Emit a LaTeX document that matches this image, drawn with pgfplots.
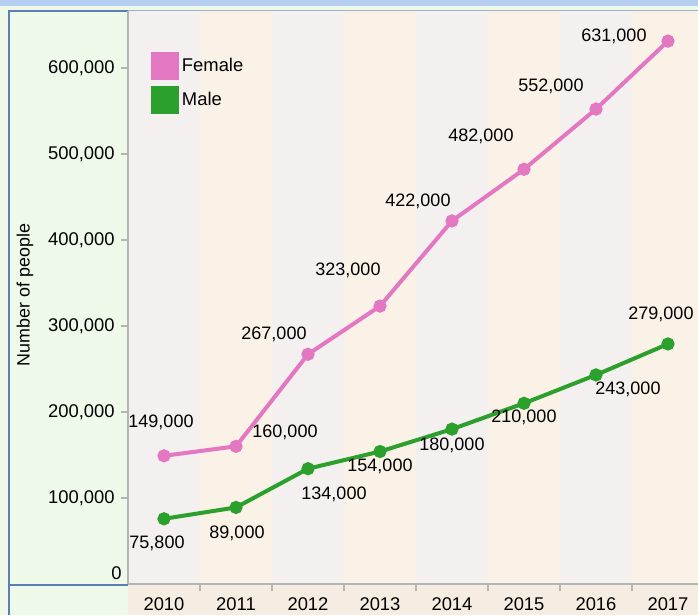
\documentclass[border=0pt]{standalone}
\usepackage{fontspec}
\setmainfont{Liberation Sans}
\usepackage{pgfplots}
\usepackage{pgfplotstable}
\pgfplotsset{compat=1.18}

\definecolor{femalec}{HTML}{E377C2}
\definecolor{malec}{HTML}{2CA02C}
\definecolor{bandA}{HTML}{F4F0F0}
\definecolor{bandB}{HTML}{FAF2E6}
\definecolor{stripbeige}{HTML}{F5EDE2}
\definecolor{bggreen}{HTML}{EFF9E9}
\definecolor{topblue}{HTML}{B6CFF0}
\definecolor{frameblue}{HTML}{5B7FB2}
\definecolor{axisgray}{HTML}{B4B4B4}

% x, value, label offset (px) from the point
\pgfplotstableread{
x y dx dy
0 149000 -3 33
1 160000 49 14
2 267000 -34 20
3 323000 -32 36
4 422000 -34 20
5 482000 -43 33
6 552000 -45 23
7 631000 -54 5
}\female

\pgfplotstableread{
x y dx dy
0 75800 -7 -25
1 89000 1 -26
2 134000 26 -26
3 154000 0 -15
4 180000 0 -16
5 210000 0 -14
6 243000 32 -14
7 279000 -7 30
}\male

\begin{document}
\fontsize{13.8pt}{16pt}\selectfont
\begin{tikzpicture}[x=0.75pt, y=0.75pt, font=\fontsize{13.8pt}{16pt}\selectfont]
\useasboundingbox (0,0) rectangle (698,615);
\fill[bggreen] (0,0) rectangle (698,609);
\fill[topblue] (0,609) rectangle (698,615);
\fill[stripbeige] (128,0) rectangle (698,31);
\draw[frameblue!60, line width=0.75pt] (128,604.5) -- (698,604.5);
\draw[frameblue, line width=1.5pt] (9,0) -- (9,604) -- (128,604);
\draw[frameblue, line width=1.5pt] (9,30) -- (128,30);
\node[rotate=90, font=\fontsize{13.4pt}{16pt}\selectfont] at (25,320) {Number of people};
\coordinate (origin) at (128,31);

\begin{axis}[
  at={(origin)}, anchor=south west,
  scale only axis,
  width=427.5pt, height=429.75pt,
  xmin=-0.5, xmax=7.417,
  ymin=0, ymax=666000,
  axis x line*=bottom, axis y line*=left,
  axis line style={axisgray, line width=1.5pt},
  axis on top,
  tick align=outside,
  xtick={0,...,7},
  xticklabels={2010,2011,2012,2013,2014,2015,2016,2017},
  major x tick style={draw=none},
  minor xtick={0.5,1.5,...,6.5},
  minor x tick style={axisgray, line width=1.5pt},
  minor tick length=5.25pt,
  major tick length=5.25pt,
  ytick={100000,200000,...,600000},
  major y tick style={axisgray, line width=1.5pt},
  extra y ticks={0},
  extra y tick style={major tick length=0pt, yticklabel style={yshift=8.25pt}},
  scaled y ticks=false,
  /pgf/number format/.cd, fixed, 1000 sep={,}, assume math mode=true,
  /pgfplots/.cd,
  tick label style={font=\fontsize{13.8pt}{16pt}\selectfont},
  legend image code/.code={\fill[#1] (0pt,-9pt) rectangle (18pt,9pt);},
  legend style={draw=none, fill=none, at={(0.0404,0.9285)}, anchor=north west,
    inner sep=0pt, row sep=4.5pt, font=\fontsize{13.8pt}{16pt}\selectfont,
    /tikz/every even column/.append style={column sep=3.5pt}},
  legend cell align=left,
  nodes near coords={\pgfmathprintnumber{\pgfplotspointmeta}},
  every node near coord/.append style={anchor=center, xshift=\dx*0.75pt, yshift=\dy*0.75pt,
    text=black, font=\fontsize{13.5pt}{16pt}\selectfont},
  visualization depends on={\thisrow{dx} \as \dx},
  visualization depends on={\thisrow{dy} \as \dy},
]
\pgfplotsinvokeforeach{0,2,4,6}{\fill[bandA] (axis cs:#1-0.5,0) rectangle (axis cs:#1+0.5,666000);}
\pgfplotsinvokeforeach{1,3,5,7}{\fill[bandB] (axis cs:#1-0.5,0) rectangle (axis cs:#1+0.5,666000);}

\addplot[color=femalec, line width=3pt, mark=*, mark size=3.4pt] table[x=x, y=y] {\female};
\addlegendentry{Female}
\addplot[color=malec, line width=3pt, mark=*, mark size=3.4pt] table[x=x, y=y] {\male};
\addlegendentry{Male}
\end{axis}
\end{tikzpicture}
\end{document}
